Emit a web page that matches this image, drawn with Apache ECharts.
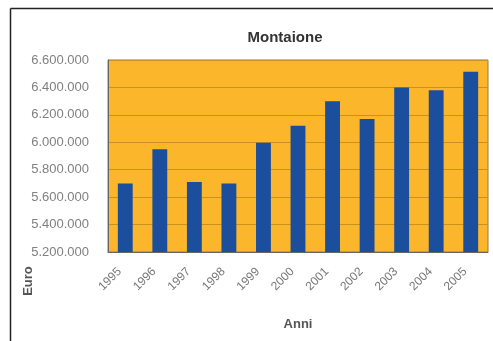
<!DOCTYPE html>
<html>
<head>
<meta charset="utf-8">
<script src="https://cdn.jsdelivr.net/npm/echarts@6/dist/echarts.min.js"></script>
<style>
  html, body { margin: 0; padding: 0; background: #ffffff; }
  #chart { width: 493px; height: 341px; }
</style>
</head>
<body>
<div id="chart"></div>
<script>
// Annual amounts (Euro) for Montaione
const years = ['1995', '1996', '1997', '1998', '1999', '2000', '2001', '2002', '2003', '2004', '2005'];
const amounts = [5700000, 5950000, 5710000, 5700000, 5997000, 6120000, 6300000, 6170000, 6400000, 6380000, 6515000];
const yTicks = { min: 5200000, max: 6600000, step: 200000 };

function formatEuro(v) {
  return String(Math.round(v)).replace(/\B(?=(\d{3})+(?!\d))/g, '.');
}

const FONT = 'Liberation Sans, Arial, sans-serif';
const chart = echarts.init(document.getElementById('chart'), null, { renderer: 'canvas' });
chart.setOption({
  animation: false,
  backgroundColor: '#ffffff',
  textStyle: { fontFamily: FONT },
  title: {
    text: 'Montaione',
    left: 280,
    top: 25,
    textAlign: 'center',
    textStyle: { fontSize: 15, fontWeight: 'bold', color: '#333333' }
  },
  grid: { left: 108, right: 5, top: 60, bottom: 89, show: true, backgroundColor: '#FBB62B', borderColor: '#9a7a3a', borderWidth: 1 },
  xAxis: {
    type: 'category',
    data: years,
    name: 'Anni',
    nameLocation: 'middle',
    nameGap: 66,
    nameTextStyle: { fontSize: 13, fontWeight: 'bold', color: '#555555' },
    axisLine: { lineStyle: { color: '#666666' } },
    axisTick: { show: false },
    axisLabel: { rotate: 45, margin: 12, padding: [0, 8, 0, 0], fontSize: 12, color: '#777777', interval: 0 }
  },
  yAxis: {
    type: 'value',
    min: yTicks.min,
    max: yTicks.max,
    interval: yTicks.step,
    axisLine: { show: true, lineStyle: { color: '#666666' } },
    axisTick: { show: false },
    axisLabel: { margin: 19, fontSize: 13, color: '#808080', formatter: formatEuro },
    splitLine: { lineStyle: { color: '#C9921E', width: 1 } }
  },
  series: [{
    type: 'bar',
    data: amounts,
    barWidth: '43%',
    itemStyle: { color: '#1B4E9C' }
  }],
  graphic: [
    { type: 'line', shape: { x1: 10.5, y1: 8.5, x2: 493, y2: 8.5 }, style: { stroke: '#222222', lineWidth: 1.5 } },
    { type: 'line', shape: { x1: 10.5, y1: 8.5, x2: 10.5, y2: 341 }, style: { stroke: '#222222', lineWidth: 1.5 } },
    {
      type: 'text',
      x: 28, y: 281,
      rotation: Math.PI / 2,
      style: { text: 'Euro', fontSize: 13, fontWeight: 'bold', fill: '#555555', textAlign: 'center', textVerticalAlign: 'middle', fontFamily: FONT }
    }
  ]
});
</script>
</body>
</html>
